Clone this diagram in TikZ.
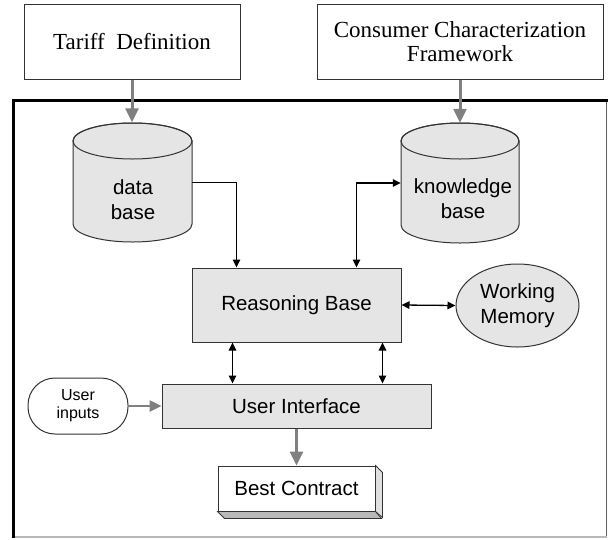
\documentclass[tikz,border=0pt]{standalone}
\usepackage{fontspec}
\setmainfont{Liberation Serif}
\setsansfont{Liberation Sans}
\usetikzlibrary{arrows.meta,calc,shapes.geometric}
\definecolor{boxfill}{gray}{0.9}
\definecolor{arrowgray}{gray}{0.5}
\definecolor{edgegray}{gray}{0.2}
\newcommand{\drawcyl}[5]{%
  \filldraw[draw=edgegray, line width=1pt, fill=boxfill]
    (#1-#4, #2+#5) -- (#1-#4, #3-#5)
    arc[start angle=180, end angle=360, x radius=#4pt, y radius=#5pt]
    -- (#1+#4, #2+#5)
    arc[start angle=0, end angle=180, x radius=#4pt, y radius=#5pt] -- cycle;
  \draw[draw=edgegray, line width=1pt] (#1, #2+#5) ellipse[x radius=#4pt, y radius=#5pt];
}
\begin{document}
\begin{tikzpicture}[x=1pt,y=-1pt,
  serifbox/.style={draw=edgegray, line width=1pt, fill=white,
    font=\fontsize{23}{24}\selectfont, align=center, inner sep=0pt},
  greybox/.style={draw=edgegray, line width=1pt, fill=boxfill,
    font=\sffamily\fontsize{20.5}{24.5}\selectfont, align=center, inner sep=0pt},
  plaintxt/.style={font=\sffamily\fontsize{20.5}{24.5}\selectfont, align=center, inner sep=0pt},
  anchorbox/.style={inner sep=0pt, minimum width=#1, minimum height=120},
  grayarrow/.style={draw=arrowgray, line width=3pt, -{Triangle[length=14pt,width=13pt]}},
  grayarrowsmall/.style={draw=arrowgray, line width=2.5pt, -{Triangle[length=12pt,width=11pt]}},
  dblarrow/.style={draw=black, line width=1.3pt,
    {Triangle[length=8pt,width=7.5pt]}-{Triangle[length=8pt,width=7.5pt]}},
  blackarrow/.style={draw=black, line width=1.3pt, -{Triangle[length=8pt,width=7.5pt]}},
]
\useasboundingbox (0,0) rectangle (608,539);

% outer frame
\draw[draw=gray!75!black, line width=1pt] (606.5,100) -- (606.5,537);
\draw[draw=gray!55, line width=1.5pt] (606.5,537) -- (13,537);
\draw[line width=3pt] (13,538) -- (13,100.5) -- (608,100.5);

% top boxes
\node[serifbox, minimum width=216, minimum height=75] (tariff) at (132,41.5) {Tariff~~Definition};
\node[serifbox, minimum width=286, minimum height=75] (ccf) at (460,41.5) {Consumer Characterization\\Framework};

% cylinders
\node[anchorbox=119] (db) at (132.5,182.5) {};
\drawcyl{132.5}{123}{242}{59.5}{18}
\node[plaintxt] (dbtxt) at (133,199.5) {data\\base};

\node[anchorbox=118] (kb) at (460,183) {};
\drawcyl{460}{123}{243}{59}{18}
\node[plaintxt] (kbtxt) at (463,198.5) {knowledge\\base};

% central nodes
\node[greybox, minimum width=209, minimum height=74] (rb) at (296.5,305) {Reasoning Base};
\node[greybox, ellipse, minimum width=123, minimum height=83] (wm) at (517.5,305.5) {Working\\Memory};
\node[greybox, minimum width=269, minimum height=44] (ui) at (296.5,406) {User Interface};
\node[draw=edgegray, line width=1pt, fill=white, rounded corners=27pt,
      minimum width=100, minimum height=56, inner sep=0pt, align=center,
      font=\sffamily\fontsize{16}{18}\selectfont] (uin) at (78,406) {User\\inputs};

% best contract (3D box)
\node[draw=edgegray, line width=1pt, fill=white, minimum width=157, minimum height=45,
      inner sep=0pt, font=\sffamily\fontsize{20.5}{24.5}\selectfont] (bc) at (296.5,488.5) {Best Contract};
\filldraw[fill=gray!25, draw=edgegray, line width=0.8pt]
  (bc.north east) -- ++(7,7) -- ++(0,45) -- (bc.south east) -- cycle;
\filldraw[fill=gray!55, draw=edgegray, line width=0.8pt]
  (bc.south west) -- ++(7,7) -- ++(157,0) -- (bc.south east) -- cycle;

% connectors
\draw[grayarrow] (tariff.south) -- (tariff.south |- db.north);
\draw[grayarrow] (ccf.south) -- (ccf.south |- kb.north);
\draw[blackarrow] (db.east) -| ([xshift=45pt]rb.north west);
\draw[dblarrow] ([xshift=-45pt]rb.north east) |- (kb.west);
\draw[dblarrow] (rb.east) -- (wm.west);
\draw[dblarrow] ([xshift=41pt]rb.south west) -- ([xshift=41pt]rb.south west |- ui.north);
\draw[dblarrow] ([xshift=-19pt]rb.south east) -- ([xshift=-19pt]rb.south east |- ui.north);
\draw[grayarrowsmall] (uin.east) -- (ui.west);
\draw[grayarrow] (ui.south) -- (bc.north);
\end{tikzpicture}
\end{document}
